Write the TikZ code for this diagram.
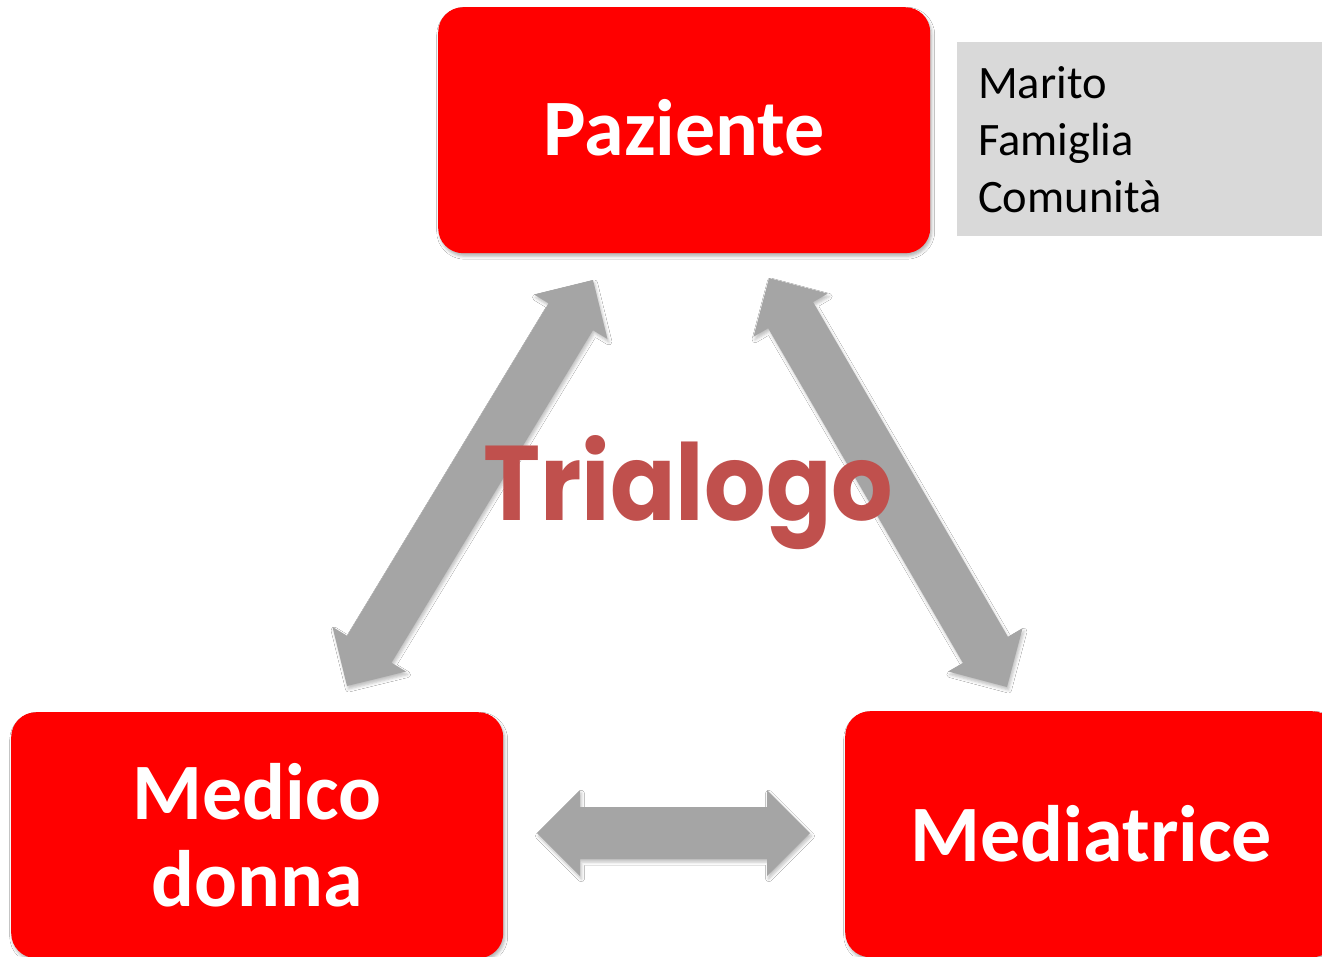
\documentclass[tikz,border=0pt]{standalone}
\usepackage{fontspec}
\setmainfont{Carlito}
\newfontfamily\trfont{Poppins}
\usetikzlibrary{calc,shadows.blur}
\definecolor{boxred}{HTML}{FF0000}
\definecolor{arrgray}{HTML}{A5A5A5}
\definecolor{famgray}{HTML}{D9D9D9}
\definecolor{trired}{HTML}{C0504D}
\newcommand{\hl}{43pt}
\newcommand{\hwh}{43pt}
\newcommand{\swh}{26pt}
\newcommand{\dblarr}[2]{%
  \fill[arrstyle] (#1)
   -- ($(#1)!\hl!(#2)!\hwh!90:(#2)$)
   -- ($(#1)!\hl!(#2)!\swh!90:(#2)$)
   -- ($(#2)!\hl!(#1)!\swh!-90:(#1)$)
   -- ($(#2)!\hl!(#1)!\hwh!-90:(#1)$)
   -- (#2)
   -- ($(#2)!\hl!(#1)!\hwh!90:(#1)$)
   -- ($(#2)!\hl!(#1)!\swh!90:(#1)$)
   -- ($(#1)!\hl!(#2)!\swh!-90:(#2)$)
   -- ($(#1)!\hl!(#2)!\hwh!-90:(#2)$)
   -- cycle;}
\tikzset{
  redbox/.style={fill=boxred, rounded corners=25pt, minimum width=492pt, minimum height=246pt,
    text=white, font=\fontsize{80}{87}\selectfont\bfseries, align=center, inner sep=0pt,
    blur shadow={shadow xshift=1.5pt, shadow yshift=-3pt, shadow blur radius=3pt, shadow opacity=30}},
  fambox/.style={fill=famgray, minimum width=383pt, minimum height=194pt, inner sep=0pt,
    text width=341pt, align=left, font=\fontsize{46.5}{57}\selectfont},
  arrstyle/.style={fill=arrgray, blur shadow={shadow xshift=1.5pt, shadow yshift=-3pt, shadow blur radius=3pt, shadow opacity=25}},
}
\begin{document}
\begin{tikzpicture}[x=1pt,y=-1pt]
\useasboundingbox (0,0) rectangle (1322,956);
\clip (0,0) rectangle (1322,956);
\fill[white] (0,0) rectangle (1322,956);
% boxes
\node[redbox, anchor=north west, text depth=6pt] (paz) at (438,7) {Paziente};
\node[redbox, anchor=north west] (med) at (11,712) {Medico\\donna};
\node[redbox, anchor=north west] (mdt) at (845,711) {Mediatrice};
\node[fambox, anchor=north west] (fam) at (957,42) {Marito\\Famiglia\\Comunità};
% arrow end points
\coordinate (lt) at (593,280);
\coordinate (lb) at (347,686);
\coordinate (rt) at (769,278);
\coordinate (rb) at (1007,687);
\coordinate (hl) at (537,833);
\coordinate (hr) at (810,833);
\dblarr{lb}{lt}
\dblarr{rt}{rb}
\dblarr{hl}{hr}
% title
\node[anchor=base west, inner sep=0pt, text=trired] (tri) at (483,520)
  {\resizebox{410pt}{85pt}{\trfont\bfseries Trialogo}};
\end{tikzpicture}
\end{document}
